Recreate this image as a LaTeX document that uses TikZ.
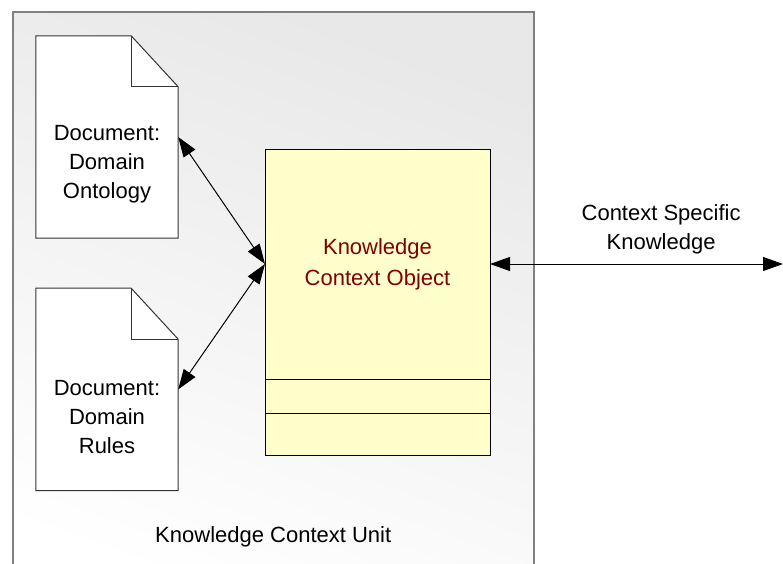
\documentclass[tikz,border=0pt]{standalone}
\usepackage{fontspec}
\setmainfont{Liberation Sans}
\usetikzlibrary{shapes}
\usetikzlibrary{arrows.meta}
\usetikzlibrary{positioning}
\definecolor{kcoyellow}{HTML}{FFFFCC}
\definecolor{kcored}{HTML}{800000}
\tikzset{
	textnode/.style = {
		align=center,
		inner sep=0pt,
		text centered,
		font=\fontsize{22}{29}\selectfont
	},
	node_unit/.style = {
		rectangle,
		draw=black!50,
		line width=1.5pt,
		top color=black!9,
		bottom color=white,
		shading angle=-20,
		inner sep=0pt,
		anchor=north west,
		minimum width=521pt,
		minimum height=600pt
	},
	node_doc/.style = {
		rectangle,
		inner sep=0pt,
		minimum width=142pt,
		minimum height=202pt
	},
	doc_line/.style = {
		draw=black!80,
		fill=white,
		line width=1pt
	},
	node_kco/.style = {
		textnode,
		rectangle,
		draw=black,
		fill=kcoyellow,
		text=kcored,
		font=\fontsize{22}{31}\selectfont,
		line width=1pt,
		outer sep=0pt,
		minimum width=225pt,
		minimum height=230pt
	},
	node_kco_part/.style = {
		node_kco,
		minimum height=34pt
	},
	link/.style = {
		<->,
		line width=1pt
	}
}
% dog-eared page outline round a document node
\newcommand{\docpage}[1]{
	\draw[doc_line] (#1.north west) -- ([xshift=-47pt]#1.north east) -- ([yshift=-51pt]#1.north east) -- (#1.south east) -- (#1.south west) -- cycle;
	\draw[doc_line, fill=none] ([xshift=-47pt]#1.north east) |- ([yshift=-51pt]#1.north east);
}
\begin{document}
\begin{tikzpicture}[x=1pt, y=-1pt, >={Triangle[length=20pt,width=14pt]}]
\useasboundingbox (0,0) rectangle (783,563);
\clip (0,0) rectangle (783,563);
\node [node_unit] (kcu) at (12,11) {};
\node [textnode] (kcu label) at ([yshift=-526pt]kcu.north) {Knowledge Context Unit};

% documents
\node [node_doc] (ontology) at (107,137) {};
\node [node_doc, below=50pt of ontology] (rules) {};
\docpage{ontology}
\docpage{rules}
\node [textnode] (ontology text) at ([yshift=-27.5pt]ontology.center) {Document:\\Domain\\Ontology};
\node [textnode] (rules text) at ([yshift=-27.5pt]rules.center) {Document:\\Domain\\Rules};

% knowledge context object
\node [node_kco] (kco) at (377.5,264) {Knowledge\\Context Object};
\node [node_kco_part, below=0pt of kco] (kco attr) {};
\node [node_kco_part, below=0pt of kco attr, minimum height=42pt] (kco ops) {};

\coordinate (edge) at (783,264);
\draw [link] (ontology.east) -- (kco.west);
\draw [link] (rules.east) -- (kco.west);
\draw [link] (kco.east) -- node [textnode, above=9pt, pos=0.584] (csk) {Context Specific\\Knowledge} (edge);
\end{tikzpicture}
\end{document}
